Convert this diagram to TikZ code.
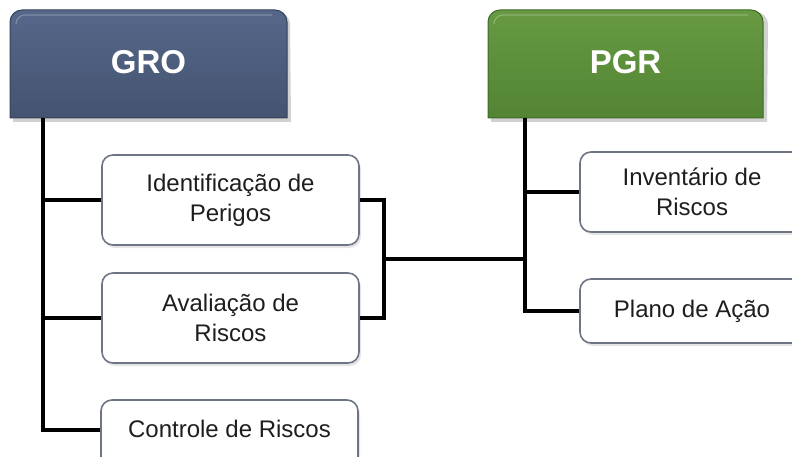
\documentclass[tikz,border=0pt]{standalone}
\usepackage{fontspec}
\setmainfont{Liberation Sans}
\begin{document}
\begin{tikzpicture}[x=1pt,y=-1pt,
  hdrtext/.style={font=\fontsize{33}{36}\selectfont\bfseries, text=white},
  itembox/.style={draw=boxline, line width=1.6pt, fill=white, rounded corners=11pt,
    font=\fontsize{24}{30}\selectfont, text=textgray, align=center, inner sep=0pt},
  wire/.style={line width=3.8pt, black, line join=miter},
  shad/.style={fill=black, opacity=0.18}
]
\definecolor{grotop}{HTML}{56678A}
\definecolor{grobot}{HTML}{44536F}
\definecolor{groline}{HTML}{34415A}
\definecolor{pgrtop}{HTML}{679A42}
\definecolor{pgrbot}{HTML}{528434}
\definecolor{pgrline}{HTML}{3E6A26}
\definecolor{boxline}{HTML}{6E7686}
\definecolor{textgray}{HTML}{1E1E1E}

\useasboundingbox (0,0) rectangle (792,457);
\clip (0,0) rectangle (792,457);

% header shadows
\fill[shad] (13,122) -- (13,24) arc[start angle=180,end angle=270,radius=12] -- (278,12) arc[start angle=270,end angle=360,radius=12] -- (291,122) -- cycle;
\fill[shad] (491,122) -- (491,24) arc[start angle=180,end angle=270,radius=12] -- (756,12) arc[start angle=270,end angle=360,radius=12] -- (767,122) -- cycle;

% GRO header
\shade[top color=grotop, bottom color=grobot, draw=groline, line width=1pt]
  (10,118) -- (10,22) arc[start angle=180,end angle=270,radius=12] -- (275,10) arc[start angle=270,end angle=360,radius=12] -- (287,118) -- cycle;
\draw[white, opacity=0.25, line width=1.2pt] (16,24) arc[start angle=180,end angle=270,radius=9] -- (272,15);
\node[hdrtext] (gro) at (148.5,62) {GRO};
\coordinate (grobase) at (43,118);

% PGR header
\shade[top color=pgrtop, bottom color=pgrbot, draw=pgrline, line width=1pt]
  (488,118) -- (488,22) arc[start angle=180,end angle=270,radius=12] -- (751,10) arc[start angle=270,end angle=360,radius=12] -- (763,118) -- cycle;
\draw[white, opacity=0.25, line width=1.2pt] (494,24) arc[start angle=180,end angle=270,radius=9] -- (748,15);
\node[hdrtext] (pgr) at (625.5,62) {PGR};
\coordinate (pgrbase) at (525,118);

% item box shadows
\foreach \a/\b/\c/\d in {102/155/359/245, 102/273/359/363, 101/400/358/470, 580/152/804/232, 580/279/804/343}
  \fill[shad, opacity=0.10, rounded corners=11pt] (\a+2,\b+3) rectangle (\c+2,\d+3);

% item boxes
\node[itembox, minimum width=257pt, minimum height=90pt] (ident) at (230.5,200) {Identificação de\\Perigos};
\node[itembox, minimum width=257pt, minimum height=90pt] (aval) at (230.5,318) {Avaliação de\\Riscos};
\node[itembox, minimum width=257pt, minimum height=70pt] (ctrl) at (229.5,435) {};
\node[font=\fontsize{24}{30}\selectfont, text=textgray] (ctrltxt) at (229.5,429) {Controle de Riscos};
\node[itembox, minimum width=224pt, minimum height=80pt] (inv) at (692,192) {Inventário de\\Riscos};
\node[itembox, minimum width=224pt, minimum height=64pt] (plano) at (692,311) {Plano de Ação};

% GRO trunk
\coordinate (grobot) at (43,430);
\draw[wire] (grobase) -- (grobot) -- (ctrl.west |- grobot);
\draw[wire] (grobase |- ident.west) -- (ident.west);
\draw[wire] (grobase |- aval.west) -- (aval.west);

% bracket between GRO items and PGR
\coordinate (brtop) at (384,200);
\coordinate (brbot) at (384,318);
\coordinate (brmid) at (384,259);
\coordinate (pgrmid) at (525,259);
\draw[wire] (ident.east |- brtop) -- (brtop) -- (brbot) -- (aval.east |- brbot);
\draw[wire] (brmid) -- (pgrmid);

% PGR trunk
\coordinate (pgrbot) at (525,311);
\draw[wire] (pgrbase) -- (pgrbot) -- (plano.west);
\draw[wire] (pgrbase |- inv.west) -- (inv.west);
\end{tikzpicture}
\end{document}
